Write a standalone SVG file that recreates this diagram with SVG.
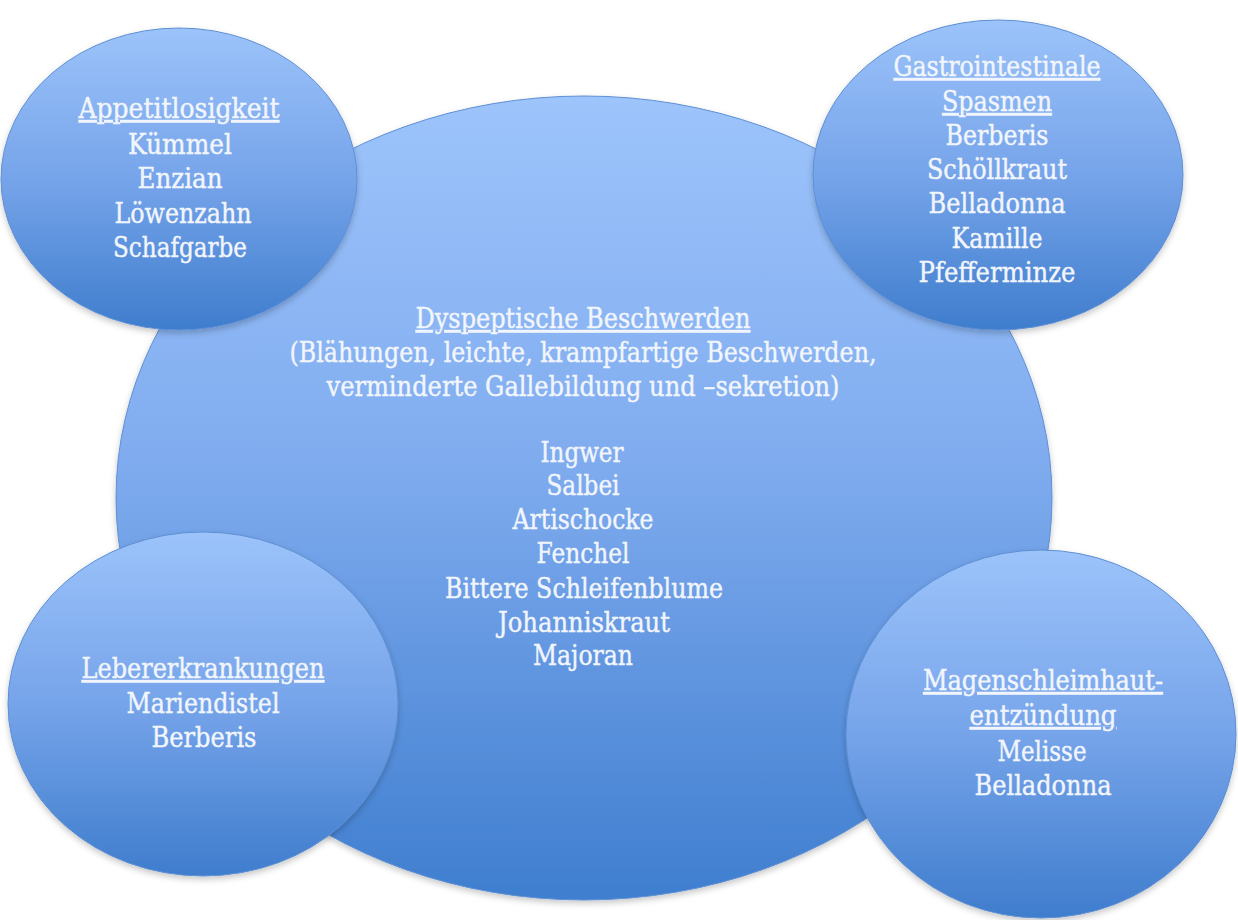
<svg xmlns="http://www.w3.org/2000/svg" width="1238" height="920" viewBox="0 0 1238 920">
<defs>
<linearGradient id="gMain" x1="0" y1="0" x2="0" y2="1">
<stop offset="0" stop-color="#9dc4fb"/>
<stop offset="0.45" stop-color="#80acef"/>
<stop offset="1" stop-color="#3f7ecf"/>
</linearGradient>
<linearGradient id="gSmall" x1="0" y1="0" x2="0" y2="1">
<stop offset="0" stop-color="#9cc3fa"/>
<stop offset="0.5" stop-color="#76a4ea"/>
<stop offset="1" stop-color="#3f7dcd"/>
</linearGradient>
<filter id="sh" x="-10%" y="-10%" width="120%" height="125%">
<feDropShadow dx="0" dy="3" stdDeviation="3" flood-color="#000" flood-opacity="0.22"/>
</filter>
</defs>
<style>
.bub{stroke:#5d8fd3;stroke-width:1;filter:url(#sh)}
.main{fill:url(#gMain)}
.small{fill:url(#gSmall)}
text{font-family:"DejaVu Serif","Liberation Serif",serif;font-size:27px;fill:#f2f6fc;stroke:#f2f6fc;stroke-width:0.4;text-anchor:middle}
.u{text-decoration:underline}
</style>
<rect width="1238" height="920" fill="#ffffff"/>
<g id="connectors"></g>
<g id="dyspeptische">
<ellipse class="bub main" cx="584" cy="498" rx="468" ry="402"/>
<text x="583" y="328" class="u" textLength="335" lengthAdjust="spacingAndGlyphs">Dyspeptische Beschwerden</text>
<text x="583" y="362" textLength="587" lengthAdjust="spacingAndGlyphs">(Blähungen, leichte, krampfartige Beschwerden,</text>
<text x="583" y="396" textLength="513" lengthAdjust="spacingAndGlyphs">verminderte Gallebildung und –sekretion)</text>
<text x="582" y="462" textLength="83" lengthAdjust="spacingAndGlyphs">Ingwer</text>
<text x="583" y="495" textLength="73" lengthAdjust="spacingAndGlyphs">Salbei</text>
<text x="583" y="529" textLength="141" lengthAdjust="spacingAndGlyphs">Artischocke</text>
<text x="583" y="563" textLength="93" lengthAdjust="spacingAndGlyphs">Fenchel</text>
<text x="584" y="598" textLength="278" lengthAdjust="spacingAndGlyphs">Bittere Schleifenblume</text>
<text x="584" y="632" textLength="172" lengthAdjust="spacingAndGlyphs">Johanniskraut</text>
<text x="583" y="665" textLength="100" lengthAdjust="spacingAndGlyphs">Majoran</text>
</g>
<g id="appetit">
<ellipse class="bub small" cx="179" cy="179" rx="178" ry="151"/>
<text x="179" y="118" class="u" textLength="201" lengthAdjust="spacingAndGlyphs">Appetitlosigkeit</text>
<text x="180" y="154" textLength="104" lengthAdjust="spacingAndGlyphs">Kümmel</text>
<text x="180" y="188" textLength="85" lengthAdjust="spacingAndGlyphs">Enzian</text>
<text x="183" y="223" textLength="137" lengthAdjust="spacingAndGlyphs">Löwenzahn</text>
<text x="180" y="257" textLength="134" lengthAdjust="spacingAndGlyphs">Schafgarbe</text>
</g>
<g id="spasmen">
<ellipse class="bub small" cx="998" cy="175" rx="185" ry="155"/>
<text x="997" y="76" class="u" textLength="207" lengthAdjust="spacingAndGlyphs">Gastrointestinale</text>
<text x="997" y="111" class="u" textLength="110" lengthAdjust="spacingAndGlyphs">Spasmen</text>
<text x="997" y="145" textLength="103" lengthAdjust="spacingAndGlyphs">Berberis</text>
<text x="997" y="179" textLength="140" lengthAdjust="spacingAndGlyphs">Schöllkraut</text>
<text x="997" y="213" textLength="137" lengthAdjust="spacingAndGlyphs">Belladonna</text>
<text x="997" y="248" textLength="91" lengthAdjust="spacingAndGlyphs">Kamille</text>
<text x="997" y="282" textLength="157" lengthAdjust="spacingAndGlyphs">Pfefferminze</text>
</g>
<g id="leber">
<ellipse class="bub small" cx="203" cy="704" rx="195" ry="172"/>
<text x="203" y="678" class="u" textLength="243" lengthAdjust="spacingAndGlyphs">Lebererkrankungen</text>
<text x="203" y="713" textLength="153" lengthAdjust="spacingAndGlyphs">Mariendistel</text>
<text x="204" y="747" textLength="105" lengthAdjust="spacingAndGlyphs">Berberis</text>
</g>
<g id="magen">
<ellipse class="bub small" cx="1041" cy="734" rx="195" ry="184"/>
<text x="1043" y="690" class="u" textLength="240" lengthAdjust="spacingAndGlyphs">Magenschleimhaut-</text>
<text x="1043" y="725" class="u" textLength="147" lengthAdjust="spacingAndGlyphs">entzündung</text>
<text x="1042" y="761" textLength="89" lengthAdjust="spacingAndGlyphs">Melisse</text>
<text x="1043" y="795" textLength="137" lengthAdjust="spacingAndGlyphs">Belladonna</text>
</g>
</svg>
